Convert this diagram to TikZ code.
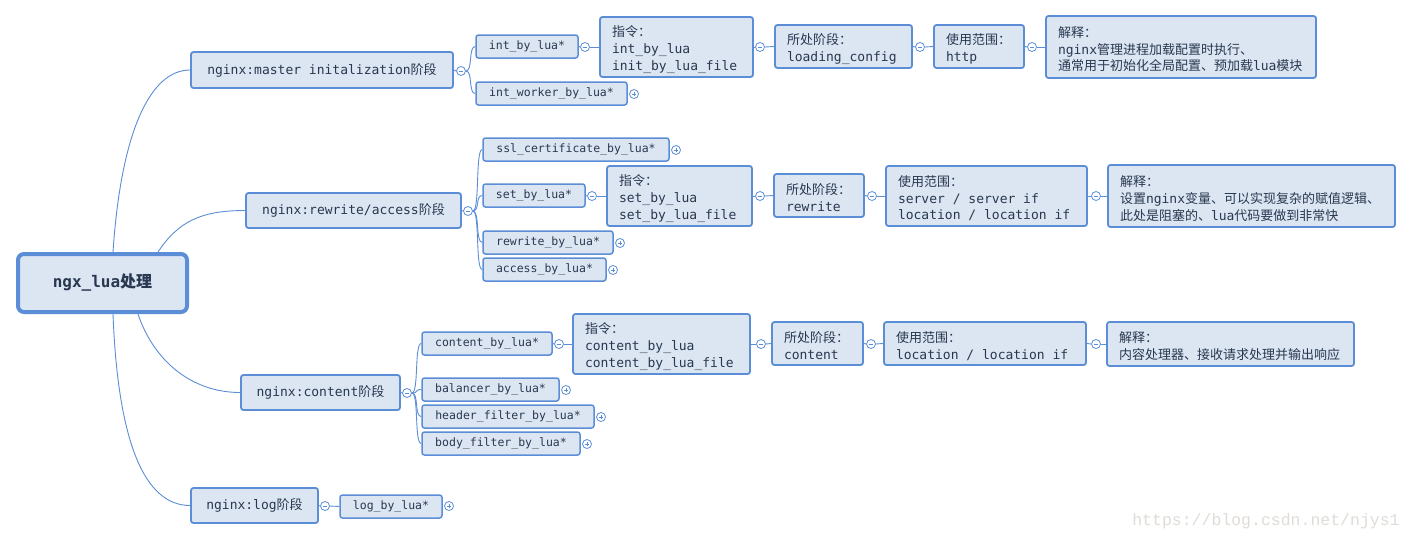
\documentclass[tikz,border=0pt]{standalone}
\usepackage{fontspec}
\setmonofont{DejaVu Sans Mono}[WordSpace={1,0,0}]
\newfontfamily\cjkf{Noto Sans CJK SC}
\newfontfamily\wmfont{Liberation Mono}
\newcommand{\zh}[1]{{\cjkf #1}}
\newcommand{\spc}{\hspace*{0.602em}}
\definecolor{bfill}{HTML}{DCE6F2}
\definecolor{bline}{HTML}{5B8ED6}
\definecolor{tcol}{HTML}{283850}
\definecolor{wmcol}{HTML}{E0DCD7}
\tikzset{
  base/.style={draw=bline, fill=bfill, rounded corners=2.5pt, line width=1.8pt, text=tcol, inner sep=0pt},
  lone/.style={base, font=\ttfamily\fontsize{13}{17}\selectfont},
  ltwo/.style={base, line width=1.5pt, font=\ttfamily\fontsize{11.5}{14}\selectfont},
  det/.style={base, font=\ttfamily\fontsize{13}{16.8}\selectfont, align=left, inner xsep=12pt,
    execute at begin node={\rule{0pt}{15.5pt}}},
  rootbox/.style={base, line width=4pt, rounded corners=6pt, font=\ttfamily\bfseries\fontsize{16}{19}\selectfont},
  conn/.style={draw=bline, line width=0.9pt},
  circ/.style={circle, draw=bline, fill=white, line width=0.8pt, minimum size=9pt, inner sep=0pt},
  sign/.style={draw=bline, line width=0.8pt},
}
\newcommand{\bx}[7][lone]{%
  \pgfmathsetmacro\bw{#4-#2}\pgfmathsetmacro\bh{#5-#3}%
  \pgfmathsetmacro\cx{(#2+#4)/2}\pgfmathsetmacro\cy{(#3+#5)/2}%
  \node[#1, minimum width=\bw pt, minimum height=\bh pt] (#6) at (\cx,\cy) {#7};}
\newcommand{\dx}[6]{%
  \pgfmathsetmacro\tw{#3-#1-24}\pgfmathsetmacro\bh{#4-#2}%
  \pgfmathsetmacro\cx{(#1+#3)/2}\pgfmathsetmacro\cy{(#2+#4)/2}%
  \node[det, text width=\tw pt, minimum height=\bh pt] (#5) at (\cx,\cy) {#6};}
\newcommand{\cmin}[3]{\node[circ] (#1) at (#2,#3) {};
  \draw[sign] ([xshift=-2.4pt]#1.center) -- ([xshift=2.4pt]#1.center);}
\newcommand{\cplus}[3]{\node[circ] (#1) at (#2,#3) {};
  \draw[sign] ([xshift=-2.4pt]#1.center) -- ([xshift=2.4pt]#1.center);
  \draw[sign] ([yshift=-2.4pt]#1.center) -- ([yshift=2.4pt]#1.center);}
\begin{document}
\begin{tikzpicture}[x=1pt,y=-1pt]
\fill[white] (0,0) rectangle (1412,541);
\useasboundingbox (0,0) rectangle (1412,541);

% root and level 1
\bx[rootbox]{18}{254}{187}{312}{root}{ngx\_lua\zh{处理}}
\bx{191}{52}{453}{88}{m}{nginx:master\spc initalization\zh{阶段}}
\bx{246}{193}{461}{228}{r}{nginx:rewrite/access\zh{阶段}}
\bx{241}{375}{400}{410}{c}{nginx:content\zh{阶段}}
\bx{191}{488}{318}{523}{lg}{nginx:log\zh{阶段}}

\draw[conn] ([xshift=97pt]root.north west) .. controls +(8,-120) and +(-40,0) .. (m.west);
\draw[conn] ([xshift=142pt]root.north west) .. controls +(20,-30) and +(-45,0) .. (r.west);
\draw[conn] ([xshift=122pt]root.south west) .. controls +(15,45) and +(-50,0) .. (c.west);
\draw[conn] ([xshift=97pt]root.south west) .. controls +(5,130) and +(-45,0) .. (lg.west);

\cmin{cm}{461}{71}
\cmin{cr}{468}{211}
\cmin{cc}{407}{393}
\cmin{clg}{325}{506}
\draw[conn] (m.east) -- (cm.west);
\draw[conn] (r.east) -- (cr.west);
\draw[conn] (c.east) -- (cc.west);
\draw[conn] (lg.east) -- (clg.west);

% level 2
\bx[ltwo]{476}{35}{578}{58}{i1}{int\_by\_lua*}
\bx[ltwo]{476}{82}{627}{105}{i2}{int\_worker\_by\_lua*}
\bx[ltwo]{483}{138}{669}{161}{r1}{ssl\_certificate\_by\_lua*}
\bx[ltwo]{483}{184}{585}{207}{r2}{set\_by\_lua*}
\bx[ltwo]{483}{231}{613}{254}{r3}{rewrite\_by\_lua*}
\bx[ltwo]{483}{258}{606}{281}{r4}{access\_by\_lua*}
\bx[ltwo]{422}{332}{552}{355}{c1}{content\_by\_lua*}
\bx[ltwo]{422}{378}{559}{401}{c2}{balancer\_by\_lua*}
\bx[ltwo]{422}{405}{594}{428}{c3}{header\_filter\_by\_lua*}
\bx[ltwo]{422}{432}{580}{455}{c4}{body\_filter\_by\_lua*}
\bx[ltwo]{340}{495}{442}{518}{lg1}{log\_by\_lua*}

\foreach \t in {i1,i2} \draw[conn] (cm.east) .. controls +(7,0) and +(-7,0) .. (\t.west);
\foreach \t in {r1,r2,r3,r4} \draw[conn] (cr.east) .. controls +(7,0) and +(-7,0) .. (\t.west);
\foreach \t in {c1,c2,c3,c4} \draw[conn] (cc.east) .. controls +(7,0) and +(-7,0) .. (\t.west);
\draw[conn] (clg.east) -- (lg1.west);

\cplus{pi2}{634}{94}
\cplus{pr1}{676}{150}
\cplus{pr3}{620}{243}
\cplus{pr4}{613}{270}
\cplus{pc2}{566}{390}
\cplus{pc3}{601}{417}
\cplus{pc4}{587}{444}
\cplus{plg}{449}{506}

% master detail chain
\cmin{ci1}{585}{47}
\dx{600}{17}{753}{77}{d11}{\zh{指令：}\\int\_by\_lua\\init\_by\_lua\_file}
\cmin{cd11}{760}{47}
\dx{775}{25}{912}{68}{d12}{\zh{所处阶段：}\\loading\_config}
\cmin{cd12}{920}{47}
\dx{934}{25}{1024}{68}{d13}{\zh{使用范围：}\\http}
\cmin{cd13}{1032}{47}
\dx{1046}{16}{1316}{78}{d14}{\zh{解释：}\\nginx\zh{管理进程加载配置时执行、}\\\zh{通常用于初始化全局配置、预加载}lua\zh{模块}}
\draw[conn] (i1.east) -- (ci1.west);
\draw[conn] (ci1.east) -- (d11.west);
\draw[conn] (d11.east) -- (cd11.west);
\draw[conn] (cd11.east) -- (d12.west);
\draw[conn] (d12.east) -- (cd12.west);
\draw[conn] (cd12.east) -- (d13.west);
\draw[conn] (d13.east) -- (cd13.west);
\draw[conn] (cd13.east) -- (d14.west);

% rewrite detail chain
\cmin{cr2}{592}{196}
\dx{607}{166}{752}{226}{d21}{\zh{指令：}\\set\_by\_lua\\set\_by\_lua\_file}
\cmin{cd21}{760}{196}
\dx{774}{174}{864}{217}{d22}{\zh{所处阶段：}\\rewrite}
\cmin{cd22}{872}{196}
\dx{886}{166}{1087}{226}{d23}{\zh{使用范围：}\\server\spc/\spc server\spc if\\location\spc/\spc location\spc if}
\cmin{cd23}{1096}{196}
\dx{1108}{165}{1395}{227}{d24}{\zh{解释：}\\\zh{设置}nginx\zh{变量、可以实现复杂的赋值逻辑、}\\\zh{此处是阻塞的、}lua\zh{代码要做到非常快}}
\draw[conn] (r2.east) -- (cr2.west);
\draw[conn] (cr2.east) -- (d21.west);
\draw[conn] (d21.east) -- (cd21.west);
\draw[conn] (cd21.east) -- (d22.west);
\draw[conn] (d22.east) -- (cd22.west);
\draw[conn] (cd22.east) -- (d23.west);
\draw[conn] (d23.east) -- (cd23.west);
\draw[conn] (cd23.east) -- (d24.west);

% content detail chain
\cmin{cc1}{559}{344}
\dx{573}{314}{750}{374}{d31}{\zh{指令：}\\content\_by\_lua\\content\_by\_lua\_file}
\cmin{cd31}{761}{344}
\dx{772}{322}{863}{365}{d32}{\zh{所处阶段：}\\content}
\cmin{cd32}{871}{344}
\dx{884}{322}{1086}{365}{d33}{\zh{使用范围：}\\location\spc/\spc location\spc if}
\cmin{cd33}{1096}{344}
\dx{1107}{322}{1354}{366}{d34}{\zh{解释：}\\\zh{内容处理器、接收请求处理并输出响应}}
\draw[conn] (c1.east) -- (cc1.west);
\draw[conn] (cc1.east) -- (d31.west);
\draw[conn] (d31.east) -- (cd31.west);
\draw[conn] (cd31.east) -- (d32.west);
\draw[conn] (d32.east) -- (cd32.west);
\draw[conn] (cd32.east) -- (d33.west);
\draw[conn] (d33.east) -- (cd33.west);
\draw[conn] (cd33.east) -- (d34.west);

% watermark
\node[text=wmcol, font=\wmfont\fontsize{16.5}{18}\selectfont, inner sep=0pt] (wm) at (1266,521) {https://blog.csdn.net/njys1};
\end{tikzpicture}
\end{document}
